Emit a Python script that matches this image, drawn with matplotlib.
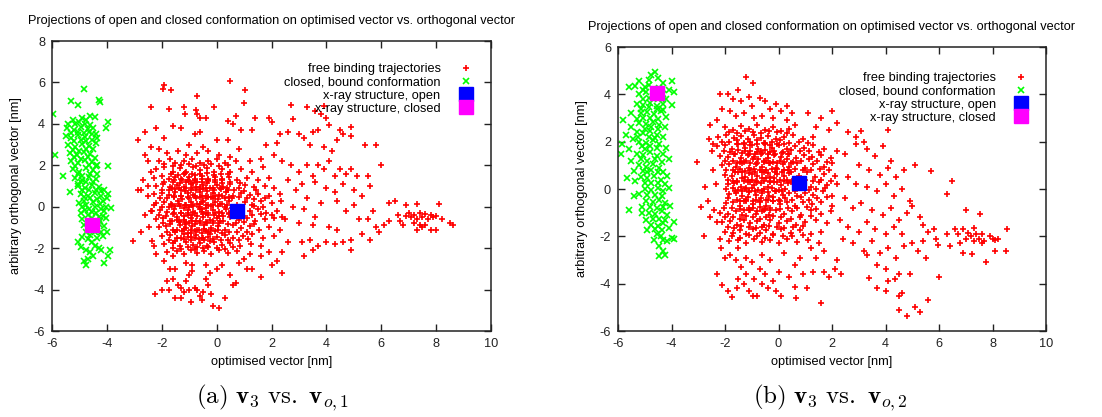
import numpy as np
import matplotlib
matplotlib.use("Agg")
import matplotlib.pyplot as plt

plt.rcParams['font.family'] = ['Liberation Sans', 'DejaVu Sans']
plt.rcParams['mathtext.fontset'] = 'cm'
plt.rcParams['axes.unicode_minus'] = False

title = "Projections of open and closed conformation on optimised vector vs. orthogonal vector"
xlabel = "optimised vector [nm]"
ylabel = "arbitrary orthogonal vector [nm]"
legend_labels = ["free binding trajectories", "closed, bound conformation",
                 "x-ray structure, open", "x-ray structure, closed"]
captions = [r"$\mathrm{(a)}\ \mathbf{v}_3\ \mathrm{vs.}\ \mathbf{v}_{o,1}$",
            r"$\mathrm{(b)}\ \mathbf{v}_3\ \mathrm{vs.}\ \mathbf{v}_{o,2}$"]
xticks = [-6, -4, -2, 0, 2, 4, 6, 8, 10]
yticks_a = [-6, -4, -2, 0, 2, 4, 6, 8]
yticks_b = [-6, -4, -2, 0, 2, 4, 6]

# x-ray structures (open, closed)
open_a = (0.75, -0.2)
closed_a = (-4.55, -0.9)
open_b = (0.75, 0.25)
closed_b = (-4.55, 4.05)

# ---- panel (a): free binding trajectories ----
red_a_upper = [
    (-1.9, 5.9), (-1.95, 5.7), (-1.65, 5.65), (-0.7, 5.35), (0.5, 6.05), (1.0, 5.0), (1.05, 5.65),
    (-2.4, 4.8), (-1.75, 4.7), (-1.2, 4.8), (-1.15, 4.5), (-0.75, 4.65), (-0.7, 4.5), (-0.1, 4.8),
    (-0.4, 4.3), (-0.6, 4.3), (0.7, 4.4), (0.4, 4.15), (0.6, 4.0), (1.4, 4.3), (1.9, 4.3), (2.0, 4.1),
    (2.7, 4.9), (2.8, 4.25), (3.3, 4.8), (3.6, 4.6), (3.8, 4.5), (4.0, 4.3), (4.1, 3.95), (4.9, 3.85),
    (3.9, 4.85), (-2.2, 3.8), (-2.6, 3.6), (-1.6, 3.9), (-1.3, 3.8), (-0.8, 3.5), (-0.6, 3.6),
    (0.0, 3.2), (0.9, 3.7), (1.3, 3.7), (2.3, 3.5), (2.6, 3.6), (3.0, 3.5), (3.2, 3.3), (3.5, 3.6),
    (3.7, 3.7), (4.4, 3.2), (4.6, 3.5), (4.9, 3.4), (4.5, 3.7), (-2.85, 3.2), (-1.9, 3.3), (-1.0, 3.0),
    (0.4, 3.2), (1.8, 3.0), (2.2, 3.1), (3.4, 3.0), (4.2, 2.7), (5.4, 3.0), (5.8, 3.0), (3.9, 2.9),
    (-2.1, 2.8),
]
red_a_cloud = [
    (2.1, 2.5), (2.4, 2.2), (2.7, 2.0), (3.0, 1.7), (3.3, 2.0), (3.5, 1.5), (3.7, 2.0), (3.9, 1.8),
    (4.1, 2.2), (4.3, 1.5), (4.5, 1.8), (4.7, 1.6), (4.9, 1.8), (5.1, 1.5), (5.5, 1.5), (6.0, 2.0),
    (3.1, 1.1), (3.6, 1.2), (4.0, 0.9), (4.3, 0.7), (4.6, 1.1), (5.0, 0.8), (5.6, 1.0), (2.6, 1.3),
    (2.9, 0.8), (3.3, 0.4), (3.8, 0.2), (4.4, 0.3), (5.0, 0.1), (5.3, 0.5), (2.8, 0.0), (3.2, -0.1),
    (3.6, -0.5), (4.7, -0.2), (5.7, -0.2), (2.5, -0.6), (3.0, -0.8), (3.5, -0.9), (4.1, -1.0),
    (4.4, -1.1), (5.2, -0.6), (5.5, -0.6), (5.8, -1.0), (5.9, -1.2), (2.6, -1.7), (3.1, -1.7),
    (3.4, -1.6), (3.7, -1.9), (4.0, -1.7), (4.3, -1.8), (4.6, -1.7), (4.9, -2.1), (5.3, -1.3),
    (5.6, -1.6), (3.2, -2.4), (3.5, -2.1), (2.4, -2.2), (2.0, -2.8), (2.4, -3.2), (1.6, -3.4),
    (2.2, -2.6), (4.9, -1.6),
]
red_a_tail = [
    (6.3, 0.2), (6.5, 0.3), (6.9, 0.1), (7.3, 0.15), (8.1, 0.15), (6.3, -0.7), (6.6, -0.4),
    (6.7, -0.7), (6.9, -0.45), (7.0, -0.3), (7.1, -0.5), (7.2, -0.4), (7.3, -0.6), (7.4, -0.3),
    (7.5, -0.5), (7.6, -0.35), (7.7, -0.6), (7.8, -0.4), (7.9, -0.5), (8.0, -0.45), (8.2, -0.6),
    (7.2, -0.8), (7.4, -0.9), (7.3, -1.1), (7.6, -0.9), (7.8, -1.1), (8.0, -1.1), (8.5, -0.8),
    (8.6, -0.9), (6.8, -0.9), (7.5, -1.0), (6.1, -0.9),
]
red_a_edge = [
    (-3.05, -1.65), (-2.85, 0.8), (-2.75, 0.8), (-2.7, 1.3), (-2.75, -1.2), (-2.6, 2.5), (-2.5, 2.2),
    (-2.4, 1.7), (-2.5, 0.5), (-2.6, -0.4), (-2.4, -0.2), (-2.45, -1.0), (-2.35, -1.65), (-2.3, -1.9),
    (-2.25, -4.2), (-2.5, 1.0), (-2.3, 0.1), (-2.2, -2.3), (-2.4, 2.9),
]
red_a_lower = [
    (-1.9, -2.6), (-1.7, -3.0), (-1.6, -3.5), (-1.5, -3.0), (-1.4, -3.8), (-1.3, -3.9), (-1.2, -4.1),
    (-1.1, -3.6), (-0.9, -3.1), (-0.8, -3.9), (-0.7, -4.0), (-0.6, -4.3), (-0.5, -4.1), (-0.4, -3.5),
    (-0.3, -3.8), (-0.2, -4.2), (-0.15, -4.8), (0.1, -4.9), (-1.0, -4.0), (-1.5, -4.4), (-1.3, -4.4),
    (-0.95, -4.6), (-0.55, -4.5), (0.3, -4.4), (0.5, -3.3), (0.7, -3.7), (0.6, -3.8), (1.0, -2.5),
    (1.1, -3.0), (1.3, -3.0), (-1.8, -3.6), (-2.0, -4.0), (-0.9, -2.8), (-0.4, -2.8), (0.2, -2.8),
    (0.8, -2.7), (1.6, -2.4), (1.9, -2.2), (-1.1, -2.7), (-1.6, -2.4), (-1.75, -4.0), (-1.0, -3.3),
    (-0.25, -3.2), (0.0, -3.0),
]
red_a_core = [
    (-1.8, 2.6), (-1.4, 2.7), (-1.1, 2.5), (-0.7, 2.6), (-0.3, 2.7), (0.1, 2.5), (0.5, 2.4), (-0.5, 2.9), (0.8, 2.8),
    (-2.1, 2.2), (-1.7, 2.3), (-1.5, 2.1), (-1.2, 2.2), (-0.9, 2.3), (-0.6, 2.1), (-0.3, 2.2), (0.0, 2.3),
    (0.3, 2.1), (0.7, 2.2), (1.2, 2.2), (1.6, 2.3),
    (-2.2, 1.8), (-1.9, 1.9), (-1.6, 1.7), (-1.35, 1.85), (-1.1, 1.7), (-0.85, 1.9), (-0.6, 1.75),
    (-0.35, 1.85), (-0.1, 1.7), (0.2, 1.8), (0.5, 1.7), (0.9, 1.8), (1.3, 1.7), (1.7, 1.9),
    (-2.3, 1.4), (-2.0, 1.5), (-1.75, 1.35), (-1.5, 1.45), (-1.25, 1.3), (-1.0, 1.45), (-0.8, 1.35),
    (-0.55, 1.5), (-0.3, 1.35), (-0.05, 1.45), (0.2, 1.3), (0.45, 1.45), (0.75, 1.3), (1.1, 1.4),
    (1.5, 1.3), (1.9, 1.4),
    (-2.2, 1.0), (-1.95, 1.1), (-1.7, 0.95), (-1.45, 1.05), (-1.2, 0.95), (-0.95, 1.1), (-0.75, 0.95),
    (-0.5, 1.05), (-0.25, 0.9), (0.0, 1.05), (0.25, 0.95), (0.5, 1.1), (0.8, 0.9), (1.05, 1.05),
    (1.35, 0.95), (1.75, 1.0), (2.1, 0.9),
    (-2.3, 0.6), (-2.0, 0.65), (-1.75, 0.55), (-1.5, 0.7), (-1.3, 0.5), (-1.05, 0.65), (-0.85, 0.55),
    (-0.6, 0.7), (-0.4, 0.5), (-0.15, 0.65), (0.1, 0.55), (0.35, 0.7), (0.6, 0.5), (0.9, 0.65),
    (1.2, 0.55), (1.5, 0.6), (1.9, 0.5), (2.3, 0.6),
    (-2.2, 0.2), (-1.9, 0.25), (-1.65, 0.15), (-1.4, 0.3), (-1.15, 0.1), (-0.95, 0.25), (-0.7, 0.15),
    (-0.5, 0.3), (-0.3, 0.1), (-0.05, 0.25), (0.2, 0.15), (0.45, 0.3), (0.75, 0.1), (1.05, 0.25),
    (1.3, 0.1), (1.6, 0.3), (2.0, 0.2), (2.35, 0.3),
    (-2.35, -0.2), (-2.05, -0.15), (-1.8, -0.25), (-1.55, -0.1), (-1.3, -0.3), (-1.05, -0.15),
    (-0.85, -0.25), (-0.6, -0.1), (-0.4, -0.3), (-0.15, -0.15), (0.1, -0.25), (0.35, -0.1),
    (0.6, -0.3), (1.2, -0.2), (1.5, -0.1), (1.8, -0.3), (2.2, -0.2),
    (-2.2, -0.6), (-1.95, -0.55), (-1.7, -0.7), (-1.45, -0.5), (-1.2, -0.65), (-0.95, -0.55),
    (-0.75, -0.7), (-0.5, -0.5), (-0.25, -0.65), (0.0, -0.55), (0.25, -0.7), (0.5, -0.5), (0.8, -0.65),
    (1.1, -0.55), (1.4, -0.7), (1.75, -0.6), (2.1, -0.55), (2.4, -0.5),
    (-2.1, -1.0), (-1.85, -0.95), (-1.6, -1.1), (-1.35, -0.9), (-1.1, -1.05), (-0.9, -0.95),
    (-0.65, -1.1), (-0.45, -0.9), (-0.2, -1.05), (0.05, -0.95), (0.3, -1.1), (0.6, -0.9), (0.9, -1.05),
    (1.2, -0.95), (1.55, -1.1), (1.9, -1.0), (2.3, -1.1),
    (-2.0, -1.4), (-1.7, -1.35), (-1.45, -1.5), (-1.2, -1.3), (-0.95, -1.45), (-0.75, -1.35),
    (-0.5, -1.5), (-0.25, -1.3), (0.0, -1.45), (0.3, -1.35), (0.6, -1.5), (0.95, -1.4), (1.3, -1.3),
    (1.7, -1.5), (2.1, -1.4),
    (-1.9, -1.8), (-1.6, -1.75), (-1.35, -1.9), (-1.1, -1.7), (-0.85, -1.85), (-0.6, -1.75),
    (-0.35, -1.9), (-0.1, -1.7), (0.2, -1.85), (0.5, -1.75), (0.85, -1.9), (1.25, -1.8), (1.6, -1.9),
    (-1.8, -2.2), (-1.45, -2.15), (-1.2, -2.3), (-0.95, -2.1), (-0.7, -2.25), (-0.45, -2.15),
    (-0.2, -2.3), (0.1, -2.1), (0.4, -2.25), (0.75, -2.15), (1.2, -2.3),
    (-1.3, 0.8), (-1.0, 0.4), (-0.75, 0.8), (-0.55, -0.1), (-0.9, -0.4), (-0.4, 0.4), (-1.2, -0.45),
    (-0.6, -0.8), (-0.3, -0.4), (0.05, 0.05), (-1.45, -0.65), (-1.0, 1.25), (-0.7, 1.2), (-0.35, 1.15),
    (-0.15, -0.8), (-0.95, -1.25), (-0.65, -1.55), (-0.4, -1.15), (-1.2, 1.6), (-0.8, 1.55),
    (-0.5, 0.85), (-1.35, 0.05), (-0.2, 0.45), (0.3, 0.4), (0.25, -0.45), (-0.85, 0.05), (-0.55, 0.25),
    (-1.15, -0.85), (-0.7, -1.95), (-0.25, -1.65),
]
red_a_dense = [
    (-1.65, 1.6), (-1.4, 1.55), (-1.15, 1.65), (-0.9, 1.6), (-0.6, 1.6), (-0.35, 1.65), (-0.1, 1.55),
    (0.15, 1.6), (0.4, 1.6),
    (-1.9, 1.2), (-1.6, 1.2), (-1.35, 1.15), (-1.1, 1.2), (-0.85, 1.15), (-0.55, 1.2), (-0.3, 1.25),
    (-0.05, 1.2), (0.2, 1.15), (0.5, 1.2), (0.85, 1.15),
    (-2.0, 0.8), (-1.75, 0.8), (-1.5, 0.85), (-1.15, 0.75), (-0.95, 0.8), (-0.6, 0.85), (-0.35, 0.75),
    (-0.1, 0.8), (0.15, 0.85), (0.4, 0.8), (0.65, 0.8), (1.0, 0.75), (1.45, 0.8),
    (-2.05, 0.4), (-1.8, 0.4), (-1.55, 0.45), (-1.25, 0.35), (-0.75, 0.4), (-0.6, 0.45), (-0.15, 0.4),
    (0.05, 0.35), (0.55, 0.4), (0.8, 0.45), (1.1, 0.4), (1.35, 0.35), (1.75, 0.4),
    (-2.0, 0.0), (-1.75, 0.0), (-1.5, 0.05), (-1.2, -0.05), (-1.0, 0.0), (-0.65, 0.0), (-0.4, -0.05),
    (-0.2, 0.05), (0.3, 0.0), (0.55, -0.05), (1.35, 0.05), (1.7, 0.0),
    (-2.1, -0.4), (-1.85, -0.45), (-1.6, -0.35), (-1.05, -0.4), (-0.7, -0.45), (-0.5, -0.35),
    (-0.1, -0.4), (0.1, -0.45), (0.45, -0.35), (0.95, -0.45), (1.3, -0.4), (1.6, -0.35), (2.0, -0.4),
    (-1.95, -0.8), (-1.7, -0.85), (-1.35, -0.75), (-1.0, -0.8), (-0.8, -0.85), (-0.35, -0.8),
    (0.1, -0.8), (0.4, -0.85), (0.7, -0.8), (1.0, -0.75), (1.35, -0.85),
    (-1.8, -1.2), (-1.5, -1.2), (-1.25, -1.15), (-1.05, -1.25), (-0.8, -1.15), (-0.55, -1.25),
    (-0.3, -1.2), (-0.05, -1.15), (0.2, -1.25), (0.45, -1.2), (0.75, -1.2), (1.1, -1.2),
    (-1.75, -1.6), (-1.5, -1.65), (-1.2, -1.55), (-0.95, -1.6), (-0.45, -1.6), (-0.15, -1.55),
    (0.15, -1.6), (0.4, -1.6), (0.8, -1.6), (1.15, -1.55),
    (-1.6, -2.0), (-1.3, -2.05), (-1.05, -1.95), (-0.8, -2.05), (-0.5, -2.0), (-0.3, -1.95),
    (0.0, -2.0), (0.3, -2.05), (0.6, -1.95),
    (-1.9, 2.05), (-1.6, 1.95), (-1.3, 2.0), (-1.0, 2.05), (-0.75, 1.95), (-0.45, 2.0), (-0.2, 2.05),
    (0.1, 1.95), (0.4, 2.0),
]
red_a_inner = [
    (-1.55, 1.3), (-1.3, 1.32), (-1.05, 1.28), (-0.8, 1.3), (-0.55, 1.33), (-0.3, 1.28), (-0.05, 1.3), (0.2, 1.32),
    (-1.62, 0.9), (-1.38, 0.92), (-1.12, 0.88), (-0.88, 0.9), (-0.62, 0.93), (-0.38, 0.88), (-0.12, 0.9),
    (0.12, 0.92), (0.38, 0.88),
    (-1.55, 0.5), (-1.3, 0.52), (-1.05, 0.48), (-0.8, 0.5), (-0.55, 0.53), (-0.3, 0.48), (-0.05, 0.5),
    (0.2, 0.52), (0.45, 0.48),
    (-1.62, 0.1), (-1.38, 0.12), (-1.12, 0.08), (-0.88, 0.1), (-0.62, 0.13), (-0.38, 0.08), (-0.12, 0.1),
    (0.12, 0.12), (0.38, 0.08),
    (-1.55, -0.3), (-1.3, -0.28), (-1.05, -0.32), (-0.8, -0.3), (-0.55, -0.27), (-0.3, -0.32),
    (-0.05, -0.3), (0.2, -0.28), (0.45, -0.32),
    (-1.62, -0.7), (-1.38, -0.68), (-1.12, -0.72), (-0.88, -0.7), (-0.62, -0.67), (-0.38, -0.72),
    (-0.12, -0.7), (0.12, -0.68),
    (-1.45, -1.1), (-1.2, -1.08), (-0.95, -1.12), (-0.7, -1.1), (-0.45, -1.07), (-0.2, -1.12), (0.05, -1.1),
    (-1.3, -1.5), (-1.05, -1.48), (-0.8, -1.52), (-0.55, -1.5), (-0.3, -1.47),
]
green_a = [
    (-4.85, 5.7), (-5.3, 5.1), (-4.3, 5.15), (-4.25, 5.05), (-5.05, 4.9), (-5.95, 4.5), (-4.6, 4.4),
    (-5.25, 4.2), (-5.0, 4.1), (-4.75, 4.2), (-4.45, 4.35), (-5.4, 4.0), (-4.9, 4.3),
    (-5.45, 3.8), (-5.2, 3.7), (-4.95, 3.85), (-4.7, 3.75), (-4.5, 3.8), (-5.05, 3.6), (-3.95, 4.1), (-4.05, 3.8),
    (-5.5, 3.4), (-5.3, 3.3), (-5.05, 3.45), (-4.8, 3.35), (-4.55, 3.5), (-4.35, 3.3), (-4.95, 3.2),
    (-5.4, 3.0), (-5.15, 2.9), (-4.9, 3.05), (-4.65, 2.95), (-4.4, 3.1), (-5.0, 2.7),
    (-5.35, 2.6), (-5.1, 2.5), (-4.85, 2.65), (-4.6, 2.55), (-4.95, 2.3), (-5.9, 2.5),
    (-5.3, 2.2), (-5.05, 2.1), (-4.8, 2.25), (-4.55, 2.15), (-4.35, 2.0), (-3.95, 1.95), (-5.6, 1.5),
    (-5.25, 1.8), (-5.0, 1.7), (-4.75, 1.85), (-4.5, 1.75), (-4.9, 1.5),
    (-5.15, 1.4), (-4.9, 1.3), (-4.65, 1.45), (-4.4, 1.35), (-5.05, 1.1),
    (-5.05, 1.0), (-4.8, 0.9), (-4.55, 1.05), (-4.3, 0.95), (-4.1, 0.8), (-5.35, 0.7), (-3.95, 0.6),
    (-4.95, 0.6), (-4.7, 0.5), (-4.45, 0.65), (-4.2, 0.5), (-4.0, 0.4), (-4.85, 0.3),
    (-5.0, 0.2), (-4.75, 0.1), (-4.5, 0.25), (-4.25, 0.15), (-4.05, 0.0), (-3.85, -0.05), (-4.65, -0.1),
    (-4.95, -0.3), (-4.7, -0.4), (-4.4, -0.3), (-4.15, -0.45), (-4.9, -0.6), (-4.25, -0.7), (-4.55, -0.55),
    (-4.85, -0.9), (-4.6, -1.0), (-4.3, -0.85), (-4.1, -0.95), (-4.45, -1.2), (-4.0, -1.2),
    (-4.9, -1.45), (-4.7, -1.55), (-4.35, -1.5), (-4.15, -1.4), (-4.55, -1.7),
    (-4.75, -2.1), (-4.6, -2.2), (-4.85, -2.6), (-4.75, -2.8), (-4.5, -2.4), (-4.3, -2.0), (-4.2, -2.1),
    (-4.1, -2.7), (-3.9, -2.1), (-3.95, -2.4), (-4.7, -2.5), (-4.95, -1.95), (-5.05, -1.7),
    (-5.15, 4.0), (-4.8, 4.0), (-4.6, 3.95), (-5.3, 3.55), (-4.85, 3.55), (-4.65, 3.6), (-4.4, 3.5),
    (-5.2, 3.15), (-4.75, 3.15), (-4.55, 3.2), (-5.25, 2.75), (-4.75, 2.8), (-4.5, 2.8), (-5.2, 2.4),
    (-4.7, 2.4), (-4.45, 2.35), (-5.15, 1.95), (-4.65, 2.0), (-4.4, 1.95), (-5.05, 1.6), (-4.6, 1.6),
    (-4.35, 1.6), (-4.95, 1.2), (-4.75, 1.2), (-4.5, 1.2), (-4.9, 0.8), (-4.65, 0.8), (-4.4, 0.8),
    (-4.2, 0.75), (-4.85, 0.45), (-4.6, 0.4), (-4.35, 0.35), (-4.15, 0.3), (-4.9, 0.0), (-4.45, 0.0),
    (-4.2, -0.1), (-4.8, -0.15), (-4.55, -0.25), (-4.3, -0.5), (-4.1, -0.2), (-4.7, -0.7), (-4.05, -0.55),
    (-4.75, -1.2), (-4.2, -1.2), (-4.6, -1.35), (-4.45, -1.9),
]

# ---- panel (b): free binding trajectories ----
red_b_upper = [
    (-1.2, 4.75), (-0.95, 4.5), (-2.2, 4.0), (-1.9, 4.0), (-1.7, 3.8), (-1.5, 4.2), (-1.4, 3.7),
    (-1.1, 3.9), (-0.7, 3.85), (-0.5, 3.7), (-0.3, 3.4), (-0.1, 3.6), (0.1, 3.3), (0.3, 3.5), (0.5, 3.2),
    (-2.1, 3.4), (-1.8, 3.3), (-1.6, 3.1), (-1.3, 3.2), (-0.9, 3.0), (-0.6, 3.1), (-0.2, 3.0), (0.3, 2.9),
    (0.6, 2.7), (1.1, 3.2), (1.6, 3.0), (1.9, 2.5), (2.2, 2.8), (-2.3, 2.9), (-1.0, 3.5), (1.4, 2.6),
    (2.0, 3.3), (2.6, 2.4), (2.9, 2.2), (3.2, 2.0), (3.1, 2.45), (4.1, 2.5), (-2.55, 2.7),
]
red_b_cloud = [
    (2.2, 1.6), (2.5, 1.5), (2.9, 1.9), (3.3, 1.7), (3.6, 1.4), (3.9, 1.8), (4.2, 1.2), (3.0, 1.0),
    (3.4, 0.8), (3.8, 0.6), (4.1, 0.9), (4.4, 0.5), (4.7, 0.8), (5.1, 1.0), (5.7, 0.75), (6.5, 0.35),
    (6.3, -0.2), (2.6, 0.5), (2.9, 0.2), (3.3, 0.1), (3.7, -0.1), (4.0, 0.2), (4.3, -0.3), (4.6, 0.0),
    (4.9, -0.5), (5.0, -0.7), (2.5, -0.4), (2.8, -0.8), (3.1, -0.6), (3.5, -0.9), (3.9, -1.1),
    (4.2, -0.8), (4.5, -1.3), (4.8, -1.0), (5.3, -1.2), (2.3, -1.3), (2.6, -1.6), (3.0, -1.8),
    (3.3, -1.4), (3.6, -1.7), (4.0, -1.9), (4.3, -1.6), (4.6, -1.9), (5.0, -2.3), (5.4, -2.2),
    (5.6, -1.8), (5.8, -1.7), (5.9, -2.1), (5.95, -2.35), (2.4, -2.1), (2.8, -2.3), (3.2, -2.6),
    (3.5, -2.2), (3.8, -2.7), (4.1, -2.5), (4.4, -2.9), (4.7, -2.4), (5.2, -2.6), (5.5, -2.9),
    (3.3, -2.8), (3.7, -3.2), (4.0, -3.4), (3.4, -3.75), (3.7, -4.2), (4.0, -4.3), (4.1, -3.9),
    (4.35, -3.8), (4.5, -4.5), (4.6, -4.4), (4.5, -3.6), (4.9, -3.6), (4.5, -5.1), (4.8, -5.35),
    (5.1, -5.0), (5.3, -5.2), (5.6, -4.7), (6.0, -3.7), (5.4, -1.5),
]
red_b_tail = [
    (6.6, -1.7), (6.7, -1.9), (6.8, -2.3), (6.9, -1.7), (7.0, -2.1), (7.1, -1.85), (7.2, -2.0),
    (7.3, -1.65), (7.3, -2.2), (7.4, -1.9), (7.5, -2.1), (7.6, -1.9), (7.6, -2.3), (7.7, -2.2),
    (7.9, -2.0), (8.0, -2.1), (8.1, -2.15), (8.2, -2.1), (8.1, -2.6), (7.0, -0.9), (6.9, -2.7),
    (7.25, -2.75), (7.55, -1.05), (7.75, -3.1), (8.55, -1.7), (8.5, -2.6), (6.4, -2.4), (6.3, -1.9),
]
red_b_edge = [
    (-3.05, 1.15), (-2.9, -0.75), (-2.8, -2.0), (-2.75, 0.1), (-2.65, -0.5), (-2.55, -1.2), (-2.6, 2.1),
    (-2.5, 1.6), (-2.45, 0.8), (-2.35, 0.2), (-2.4, -0.9), (-2.3, -1.4), (-2.2, -2.1), (-2.3, -3.6),
    (-2.1, -4.05), (-2.15, -2.5), (-2.45, 1.9),
]
red_b_lower = [
    (-2.0, -2.9), (-1.9, -4.3), (-1.8, -2.8), (-1.75, -4.55), (-1.6, -3.0), (-1.5, -3.8), (-1.55, -4.2),
    (-1.4, -3.3), (-1.3, -4.0), (-1.2, -3.6), (-1.1, -4.3), (-1.0, -3.1), (-0.9, -3.8), (-0.8, -4.5),
    (-0.7, -3.4), (-0.6, -4.0), (-0.5, -3.6), (-0.4, -4.2), (-0.3, -3.0), (-0.2, -3.9), (-0.1, -4.3),
    (0.0, -3.5), (0.1, -4.5), (0.4, -3.7), (0.6, -4.15), (0.65, -4.6), (0.6, -3.2), (0.9, -3.6),
    (1.05, -4.2), (1.3, -3.5), (1.4, -2.9), (1.6, -4.8), (1.7, -3.5), (1.9, -3.7), (2.1, -3.4),
    (2.2, -3.0), (2.35, -3.6), (-1.2, -2.9), (-0.6, -2.8), (0.2, -2.7), (0.8, -2.9), (1.2, -2.5),
    (1.7, -2.6), (-1.5, -2.5), (-0.95, -4.5),
]
red_b_core = [
    (-2.0, 2.6), (-1.7, 2.5), (-1.4, 2.65), (-1.1, 2.55), (-0.8, 2.7), (-0.5, 2.5), (-0.2, 2.6), (0.1, 2.45), (0.4, 2.55),
    (-2.25, 2.2), (-1.95, 2.3), (-1.65, 2.15), (-1.4, 2.25), (-1.15, 2.1), (-0.9, 2.3), (-0.65, 2.15),
    (-0.4, 2.25), (-0.1, 2.1), (0.2, 2.2), (0.55, 2.3), (0.9, 2.1), (1.3, 2.2),
    (-2.3, 1.8), (-2.0, 1.85), (-1.75, 1.7), (-1.5, 1.9), (-1.25, 1.75), (-1.0, 1.85), (-0.75, 1.7),
    (-0.5, 1.9), (-0.25, 1.75), (0.0, 1.85), (0.3, 1.7), (0.6, 1.8), (0.95, 1.75), (1.3, 1.85), (1.7, 1.7),
    (-2.2, 1.4), (-1.9, 1.35), (-1.65, 1.5), (-1.4, 1.3), (-1.15, 1.45), (-0.9, 1.35), (-0.65, 1.5),
    (-0.4, 1.3), (-0.15, 1.45), (0.1, 1.35), (0.35, 1.5), (0.65, 1.3), (0.95, 1.45), (1.25, 1.35),
    (1.6, 1.45), (1.95, 1.3),
    (-2.1, 1.0), (-1.85, 1.05), (-1.6, 0.95), (-1.35, 1.1), (-1.1, 0.9), (-0.85, 1.05), (-0.6, 0.95),
    (-0.35, 1.1), (-0.1, 0.9), (0.15, 1.05), (0.4, 0.95), (0.7, 1.1), (1.0, 0.9), (1.3, 1.05),
    (1.7, 0.95), (2.0, 1.1),
    (-2.0, 0.6), (-1.75, 0.55), (-1.5, 0.7), (-1.25, 0.5), (-1.0, 0.65), (-0.8, 0.55), (-0.55, 0.7),
    (-0.3, 0.5), (-0.05, 0.65), (0.2, 0.55), (0.45, 0.7), (0.75, 0.55), (1.05, 0.7), (1.35, 0.5),
    (1.7, 0.65), (2.1, 0.55),
    (-1.9, 0.2), (-1.65, 0.25), (-1.4, 0.1), (-1.15, 0.3), (-0.9, 0.15), (-0.65, 0.25), (-0.4, 0.1),
    (-0.15, 0.3), (0.1, 0.15), (0.35, 0.25), (1.2, 0.1), (1.5, 0.3), (1.8, 0.15), (2.2, 0.2),
    (-1.85, -0.2), (-1.6, -0.15), (-1.35, -0.3), (-1.1, -0.1), (-0.85, -0.25), (-0.6, -0.15),
    (-0.35, -0.3), (-0.1, -0.1), (0.15, -0.25), (0.4, -0.15), (0.7, -0.3), (1.0, -0.15), (1.3, -0.25),
    (1.65, -0.1), (2.0, -0.3),
    (-1.95, -0.6), (-1.7, -0.55), (-1.45, -0.7), (-1.2, -0.5), (-0.95, -0.65), (-0.7, -0.55),
    (-0.45, -0.7), (-0.2, -0.5), (0.05, -0.65), (0.3, -0.55), (0.6, -0.7), (0.9, -0.55), (1.25, -0.65),
    (1.6, -0.55), (2.0, -0.7),
    (-2.2, -1.0), (-1.9, -1.05), (-1.6, -0.95), (-1.35, -1.1), (-1.1, -0.9), (-0.85, -1.05),
    (-0.6, -0.95), (-0.35, -1.1), (-0.1, -0.9), (0.2, -1.05), (0.5, -0.95), (0.85, -1.1), (1.2, -0.9),
    (1.6, -1.05), (1.95, -0.95),
    (-2.1, -1.4), (-1.8, -1.35), (-1.55, -1.5), (-1.3, -1.3), (-1.05, -1.45), (-0.8, -1.35),
    (-0.55, -1.5), (-0.3, -1.3), (0.0, -1.45), (0.3, -1.35), (0.65, -1.5), (1.0, -1.4), (1.4, -1.3),
    (1.8, -1.45),
    (-2.0, -1.8), (-1.7, -1.85), (-1.45, -1.75), (-1.2, -1.9), (-0.95, -1.7), (-0.7, -1.85),
    (-0.45, -1.75), (-0.2, -1.9), (0.1, -1.7), (0.45, -1.85), (0.8, -1.75), (1.2, -1.9), (1.6, -1.8),
    (-1.85, -2.2), (-1.5, -2.15), (-1.2, -2.3), (-0.9, -2.1), (-0.6, -2.25), (-0.3, -2.15), (0.0, -2.3),
    (0.3, -2.1), (0.7, -2.25), (1.1, -2.15), (1.5, -2.3),
    (-1.0, 0.4), (-0.7, 0.8), (-0.45, 0.45), (-1.25, 0.75), (-0.55, 1.2), (-0.95, 1.25), (-0.25, 0.85),
    (-0.75, -0.05), (-1.2, 0.05), (-0.4, -0.45), (-0.85, -0.45), (0.05, 0.4), (-1.45, 1.15),
    (-0.65, 1.6), (-1.05, 1.6), (-0.3, 1.55), (0.2, 0.8), (-1.55, 0.35), (-0.5, -0.85), (-1.1, -0.8),
    (0.5, 0.35), (0.6, -0.1), (-1.3, -0.5),
]
red_b_dense = [
    (-1.85, 2.4), (-1.55, 2.35), (-1.25, 2.45), (-0.95, 2.4), (-0.65, 2.35), (-0.35, 2.45),
    (-0.05, 2.4), (0.3, 2.35),
    (-2.1, 2.0), (-1.85, 2.0), (-1.55, 2.05), (-1.3, 1.95), (-1.05, 2.0), (-0.8, 2.05), (-0.5, 1.95),
    (-0.25, 2.0), (0.05, 2.05), (0.4, 1.95), (0.75, 2.0), (1.1, 1.95),
    (-2.05, 1.6), (-1.8, 1.55), (-1.5, 1.65), (-1.25, 1.6), (-0.8, 1.55), (-0.5, 1.65), (-0.15, 1.6),
    (0.15, 1.55), (0.45, 1.65), (0.8, 1.6), (1.15, 1.6), (1.5, 1.55),
    (-2.0, 1.2), (-1.7, 1.2), (-1.2, 1.2), (-0.75, 1.25), (-0.45, 1.2), (-0.2, 1.15), (0.05, 1.2),
    (0.3, 1.25), (0.55, 1.15), (0.85, 1.2), (1.15, 1.25), (1.45, 1.2), (1.8, 1.15),
    (-1.95, 0.8), (-1.7, 0.8), (-1.45, 0.85), (-1.05, 0.8), (-0.9, 0.85), (-0.45, 0.8), (-0.05, 0.85),
    (0.35, 0.8), (0.6, 0.85), (0.9, 0.8), (1.2, 0.8), (1.55, 0.85), (1.9, 0.8),
    (-1.9, 0.4), (-1.7, 0.35), (-1.35, 0.45), (-1.15, 0.4), (-0.85, 0.35), (-0.6, 0.45), (-0.3, 0.35),
    (-0.15, 0.45), (0.3, 0.4), (1.0, 0.4), (1.3, 0.35), (1.6, 0.4), (1.95, 0.35),
    (-1.95, 0.0), (-1.7, 0.05), (-1.5, -0.05), (-1.25, 0.0), (-1.0, 0.05), (-0.55, 0.0), (-0.25, 0.05),
    (0.0, -0.05), (0.25, 0.0), (1.15, -0.05), (1.4, 0.0), (1.75, 0.05),
    (-1.9, -0.4), (-1.55, -0.45), (-1.15, -0.35), (-0.65, -0.4), (-0.2, -0.35), (0.0, -0.45),
    (0.25, -0.4), (0.5, -0.45), (0.85, -0.35), (1.15, -0.45), (1.45, -0.4), (1.8, -0.35),
    (-2.05, -0.8), (-1.75, -0.8), (-1.45, -0.85), (-0.95, -0.8), (-0.7, -0.75), (-0.3, -0.8),
    (0.05, -0.85), (0.35, -0.8), (0.7, -0.8), (1.05, -0.75), (1.4, -0.85),
    (-2.0, -1.2), (-1.7, -1.2), (-1.45, -1.25), (-1.2, -1.15), (-0.95, -1.2), (-0.7, -1.25),
    (-0.45, -1.2), (-0.2, -1.15), (0.1, -1.2), (0.45, -1.25), (0.8, -1.2), (1.2, -1.15),
    (-1.9, -1.6), (-1.65, -1.65), (-1.4, -1.55), (-1.1, -1.6), (-0.85, -1.65), (-0.6, -1.6),
    (-0.35, -1.55), (-0.05, -1.6), (0.2, -1.65), (0.55, -1.6), (0.9, -1.55),
    (-1.75, -2.0), (-1.45, -2.05), (-1.1, -1.95), (-0.8, -2.0), (-0.5, -2.05), (-0.2, -1.95),
    (0.15, -2.0), (0.5, -2.0), (0.9, -1.95),
]
red_b_inner = [
    (-1.55, 1.9), (-1.3, 1.92), (-1.05, 1.88), (-0.8, 1.9), (-0.55, 1.93), (-0.3, 1.88), (-0.05, 1.9), (0.2, 1.92),
    (-1.62, 1.5), (-1.38, 1.52), (-1.12, 1.48), (-0.88, 1.5), (-0.62, 1.53), (-0.38, 1.48), (-0.12, 1.5),
    (0.12, 1.52), (0.38, 1.48),
    (-1.55, 1.1), (-1.3, 1.12), (-1.05, 1.08), (-0.8, 1.1), (-0.55, 1.13), (-0.3, 1.08), (-0.05, 1.1),
    (0.2, 1.12), (0.45, 1.08),
    (-1.62, 0.7), (-1.38, 0.72), (-1.12, 0.68), (-0.88, 0.7), (-0.62, 0.73), (-0.38, 0.68), (-0.12, 0.7),
    (0.12, 0.72), (0.38, 0.68),
    (-1.55, 0.3), (-1.3, 0.32), (-1.05, 0.28), (-0.8, 0.3), (-0.55, 0.33), (-0.3, 0.28), (-0.05, 0.3),
    (0.2, 0.32), (0.45, 0.28),
    (-1.62, -0.1), (-1.38, -0.08), (-1.12, -0.12), (-0.88, -0.1), (-0.62, -0.07), (-0.38, -0.12),
    (-0.12, -0.1), (0.12, -0.08),
    (-1.45, -0.5), (-1.2, -0.48), (-0.95, -0.52), (-0.7, -0.5), (-0.45, -0.47), (-0.2, -0.52), (0.05, -0.5),
    (-1.3, -0.9), (-1.05, -0.88), (-0.8, -0.92), (-0.55, -0.9), (-0.3, -0.87),
]
green_b = [
    (-4.6, 4.95), (-4.75, 4.8), (-4.85, 4.6), (-4.5, 4.7), (-5.2, 4.55), (-4.3, 4.5), (-4.0, 4.55),
    (-4.1, 4.2), (-5.35, 4.35), (-5.6, 4.3), (-3.9, 4.1), (-4.2, 3.8), (-5.0, 4.3),
    (-5.2, 4.0), (-4.95, 4.1), (-4.7, 3.95), (-4.3, 4.0), (-5.05, 3.8),
    (-5.3, 3.6), (-5.05, 3.55), (-4.8, 3.65), (-4.55, 3.5), (-4.3, 3.6), (-5.5, 3.2), (-4.0, 3.55),
    (-5.15, 3.2), (-4.9, 3.25), (-4.65, 3.15), (-4.4, 3.3), (-5.3, 2.95), (-4.2, 3.05),
    (-5.2, 2.8), (-4.95, 2.75), (-4.7, 2.85), (-4.45, 2.7), (-5.8, 2.9), (-5.5, 2.6), (-4.25, 2.6),
    (-5.3, 2.4), (-5.05, 2.35), (-4.8, 2.45), (-4.55, 2.3), (-5.7, 2.3), (-4.3, 2.2), (-5.45, 2.1),
    (-5.2, 2.0), (-4.95, 1.95), (-4.7, 2.05), (-4.45, 1.9), (-5.85, 1.9), (-5.6, 1.7), (-4.2, 1.75), (-5.0, 1.7),
    (-5.3, 1.5), (-5.05, 1.45), (-4.8, 1.55), (-4.55, 1.4), (-4.3, 1.5), (-5.5, 1.2), (-4.1, 1.25), (-5.9, 1.5),
    (-5.2, 1.0), (-4.95, 0.95), (-4.7, 1.05), (-4.45, 0.9), (-5.4, 0.75), (-4.9, 0.7),
    (-5.15, 0.5), (-4.9, 0.45), (-4.65, 0.55), (-4.4, 0.4), (-5.35, 0.35), (-4.15, 0.55), (-5.65, 0.45),
    (-5.0, 0.0), (-4.75, -0.05), (-4.5, 0.05), (-4.3, -0.1), (-5.2, -0.2), (-4.1, 0.05), (-5.4, -0.3),
    (-4.95, -0.5), (-4.7, -0.55), (-4.45, -0.45), (-4.25, -0.6), (-5.1, -0.75), (-4.05, -0.7),
    (-4.85, -1.0), (-4.6, -1.05), (-4.35, -0.95), (-4.15, -1.1), (-5.1, -1.0), (-4.95, -1.3), (-3.9, -1.4),
    (-4.75, -1.5), (-4.5, -1.55), (-4.3, -1.45), (-4.9, -1.75), (-4.1, -1.65), (-4.55, -1.9),
    (-4.4, -2.0), (-4.3, -2.15), (-4.15, -2.2), (-4.0, -2.05), (-3.9, -2.1), (-4.65, -2.15),
    (-4.45, -2.4), (-4.3, -2.6), (-4.25, -2.8), (-4.45, -2.85), (-5.6, -0.9),
    (-4.85, 4.4), (-4.45, 4.25), (-5.05, 4.2), (-4.85, 3.85), (-4.5, 3.8), (-5.15, 3.4), (-4.85, 3.45),
    (-4.55, 3.4), (-4.3, 3.35), (-5.05, 3.0), (-4.8, 3.0), (-4.5, 2.95), (-5.0, 2.55), (-4.75, 2.6),
    (-4.5, 2.55), (-5.25, 2.2), (-4.85, 2.2), (-4.6, 2.15), (-5.1, 1.8), (-4.8, 1.8), (-4.55, 1.75),
    (-5.15, 1.25), (-4.9, 1.2), (-4.6, 1.25), (-4.35, 1.15), (-5.05, 0.75), (-4.75, 0.8), (-4.5, 0.7),
    (-4.3, 0.7), (-5.0, 0.25), (-4.75, 0.25), (-4.5, 0.25), (-4.25, 0.2), (-4.9, -0.25), (-4.6, -0.25),
    (-4.35, -0.3), (-4.8, -0.75), (-4.55, -0.8), (-4.3, -0.75), (-4.7, -1.25), (-4.45, -1.25),
    (-4.25, -1.3), (-4.6, -1.7), (-4.35, -1.75),
]

red_a = np.array(red_a_upper + red_a_cloud + red_a_tail + red_a_edge + red_a_lower
                 + red_a_core + red_a_dense + red_a_inner)
red_b = np.array(red_b_upper + red_b_cloud + red_b_tail + red_b_edge + red_b_lower
                 + red_b_core + red_b_dense + red_b_inner)
green_a = np.array(green_a)
green_b = np.array(green_b)

FS = 9.2


def draw_panel(ax, red, green, xopen, xclosed, yticks, leg_anchor):
    ax.plot(red[:, 0], red[:, 1], '+', color='#ff0000', ms=4.5, mew=1.2, ls='none',
            label=legend_labels[0])
    ax.plot(green[:, 0], green[:, 1], 'x', color='#00ff00', ms=3.8, mew=1.2, ls='none',
            label=legend_labels[1])
    ax.plot([xopen[0]], [xopen[1]], 's', color='#0000ff', ms=10, ls='none',
            label=legend_labels[2])
    ax.plot([xclosed[0]], [xclosed[1]], 's', color='#ff00ff', ms=10, ls='none',
            label=legend_labels[3])
    ax.set_xlim(-6, 10)
    ax.set_ylim(yticks[0], yticks[-1])
    ax.set_xticks(xticks)
    ax.set_yticks(yticks)
    ax.tick_params(direction='in', top=True, right=True, length=5, width=1,
                   labelsize=FS, pad=5, colors='#222222')
    for s in ax.spines.values():
        s.set_linewidth(1.1)
        s.set_color('#222222')
    ax.set_xlabel(xlabel, fontsize=FS, labelpad=4)
    ax.set_ylabel(ylabel, fontsize=FS, labelpad=8)
    ax.set_title(title, fontsize=FS, pad=12)
    ax.legend(loc='upper right', bbox_to_anchor=leg_anchor, markerfirst=False,
              frameon=False, fontsize=FS, labelspacing=0.1, handlelength=1.0,
              handletextpad=1.5, borderpad=0, borderaxespad=0)


fig = plt.figure(figsize=(11.02, 4.17), dpi=100)
ax_a = fig.add_axes([52 / 1102, 1 - 331 / 417, 439 / 1102, 290 / 417])
ax_b = fig.add_axes([618 / 1102, 1 - 331 / 417, 428 / 1102, 284 / 417])

draw_panel(ax_a, red_a, green_a, open_a, closed_a, yticks_a, (0.958, 0.924))
draw_panel(ax_b, red_b, green_b, open_b, closed_b, yticks_b, (0.957, 0.912))

fig.text(272 / 1102, 1 - 398 / 417, captions[0], fontsize=18, ha='center', va='center')
fig.text(830 / 1102, 1 - 398 / 417, captions[1], fontsize=18, ha='center', va='center')

fig.savefig("out.png", dpi=100)
